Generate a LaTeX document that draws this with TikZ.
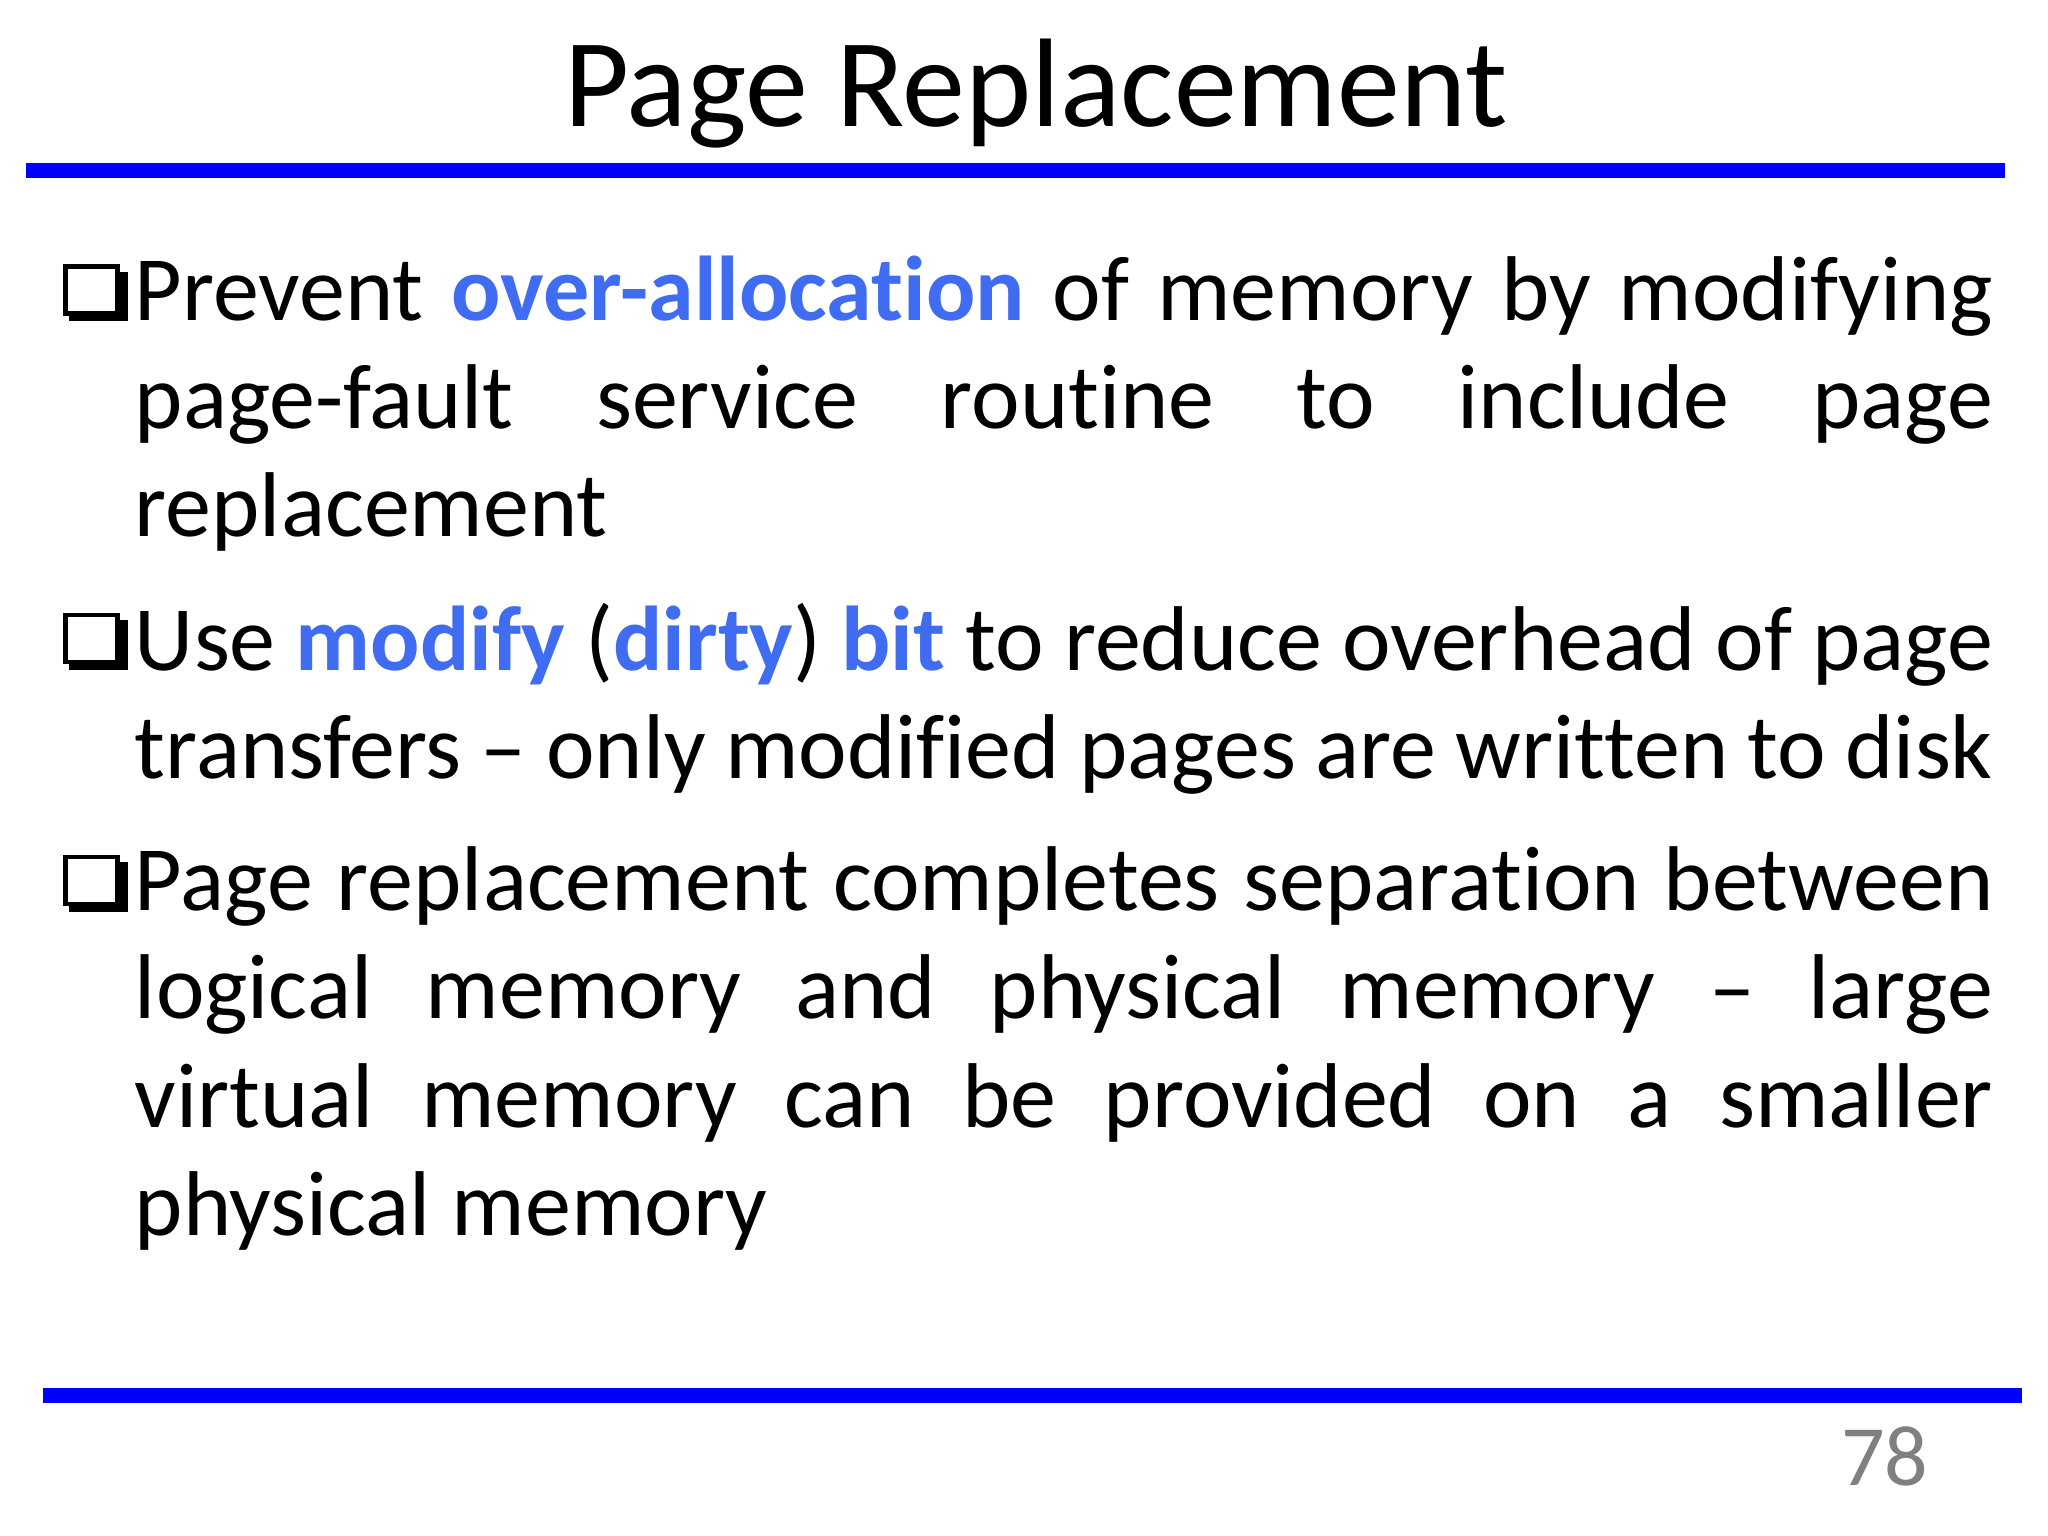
\documentclass[tikz,border=0pt]{standalone}
\usepackage{fontspec}
\setmainfont[Ligatures={NoCommon,NoContextual}]{Carlito}
\definecolor{hl}{HTML}{3F6CF0}
\definecolor{rule}{HTML}{0000FF}
\newcommand{\hlt}[1]{\textcolor{hl}{\textbf{#1}}}
\newcommand{\bodyfmt}{\fontsize{46}{54.2}\selectfont\hyphenpenalty=10000\exhyphenpenalty=10000}
\tikzset{body/.style={inner sep=0pt,anchor=base west},
 bx/.style={draw=black,line width=2.2pt,fill=white}}
\begin{document}
\begin{tikzpicture}[x=0.653pt,y=-0.653pt]
\useasboundingbox (0,0) rectangle (1568,1176);
\fill[white] (0,0) rectangle (1568,1176);
\node[inner sep=0pt,anchor=base,font=\fontsize{63}{70}\selectfont] (title) at (793,97) {Page Replacement};
\fill[rule] (20,125) rectangle (1535,136);
\fill[rule] (33,1063) rectangle (1548,1074);
\foreach \y/\n in {203/b1,470/b2,655/b3}{
  \fill[black] (53,\y+5) rectangle (98,\y+43);
  \draw[bx] (50,\y+1) rectangle (90,\y+37);
  \coordinate (\n) at (50,\y);
}
\node[body] (p1) at (103,245) {\parbox[t]{929pt}{\bodyfmt Prevent \hlt{over-allocation} of memory by modifying page-fault service routine to include page\linebreak replacement}};
\node[body] (p2) at (103,513) {\parbox[t]{929pt}{\bodyfmt Use \hlt{modify} (\hlt{dirty}) \hlt{bit} to reduce overhead of page transfers -- only modified pages are written to disk}};
\node[body] (p3) at (103,697) {\parbox[t]{929pt}{\bodyfmt Page replacement completes separation between logical memory and physical memory -- large\linebreak virtual memory can be provided on a smaller\linebreak physical memory}};
\node[inner sep=0pt,anchor=base,font=\fontsize{43}{50}\selectfont,text=gray] (num) at (1443,1137) {78};
\end{tikzpicture}
\end{document}
